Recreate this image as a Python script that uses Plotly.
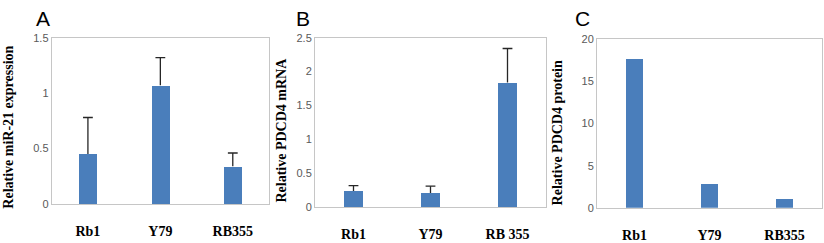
import plotly.graph_objects as go

cats_a = ["Rb1", "Y79", "RB355"]
mir21 = [0.45, 1.07, 0.34]
mir21_err = [0.33, 0.25, 0.12]

cats_b = ["Rb1", "Y79", "RB 355"]
pdcd4_mrna = [0.24, 0.21, 1.84]
pdcd4_mrna_err = [0.08, 0.10, 0.50]

cats_c = ["Rb1", "Y79", "RB355"]
pdcd4_protein = [17.6, 2.8, 1.0]

panel_letters = ["A", "B", "C"]
y_titles = ["Relative miR-21 expression", "Relative PDCD4 mRNA", "Relative PDCD4 protein"]

BAR = "#4a7ebb"
ERR = "#262626"
fig = go.Figure()

def bar(x, y, err, xa, ya, width):
    fig.add_trace(go.Bar(x=x, y=y, marker=dict(color=BAR, line=dict(width=0)), width=width,
                         xaxis=xa, yaxis=ya, showlegend=False))
    if err is not None:
        xs, ys = [], []
        for c, v, e in zip(x, y, err):
            xs += [c, c, None]
            ys += [v, v + e, None]
        fig.add_trace(go.Scatter(x=xs, y=ys, mode="lines", line=dict(color=ERR, width=1.3),
                                 xaxis=xa, yaxis=ya, showlegend=False, hoverinfo="skip"))
        fig.add_trace(go.Scatter(x=x, y=[v + e for v, e in zip(y, err)], mode="markers",
                                 marker=dict(symbol="line-ew", size=7,
                                             line=dict(color=ERR, width=1.3)),
                                 xaxis=xa, yaxis=ya, showlegend=False, hoverinfo="skip"))

bar(cats_a, mir21, mir21_err, "x", "y", 0.25)
bar(cats_b, pdcd4_mrna, pdcd4_mrna_err, "x2", "y2", 0.24)
bar(cats_c, pdcd4_protein, None, "x3", "y3", 0.23)

W, H = 824, 243
xdoms = [(51.7, 269), (315, 546), (597, 822)]
ydoms = [(33.3, 208.3), (33.3, 211.7), (35, 212.3)]
yranges = [(0, 1.5, 0.5), (0, 2.5, 0.5), (0, 20, 5)]

tickfont = dict(family="Liberation Sans", size=11, color="#595959")
catfont = dict(family="Liberation Serif", size=14, color="#000000")
layout = dict(width=W, height=H, margin=dict(l=0, r=0, t=0, b=0),
              plot_bgcolor="white", paper_bgcolor="white", bargap=0)
for i in range(3):
    s = "" if i == 0 else str(i + 1)
    x0, x1 = xdoms[i]
    y0, y1 = ydoms[i]
    layout["xaxis" + s] = dict(domain=[x0 / W, x1 / W], showline=True, mirror=True,
                               linecolor="#c6c6c6", linewidth=1, ticks="", showgrid=False,
                               tickfont=catfont, ticklabelstandoff=14, anchor="y" + s,
                               tickprefix="<b>", ticksuffix="</b>")
    lo, hi, dt = yranges[i]
    layout["yaxis" + s] = dict(domain=[1 - y1 / H, 1 - y0 / H], range=[lo, hi], dtick=dt,
                               showline=True, mirror=True, linecolor="#c6c6c6", linewidth=1,
                               showgrid=False, zeroline=False, ticks="", tickfont=tickfont,
                               anchor="x" + s)
fig.update_layout(**layout)

title_x = [9, 282, 557]
title_y = [128, 131, 134]
letter_x = [43, 303, 582]
for i in range(3):
    fig.add_annotation(x=title_x[i] / W, y=1 - title_y[i] / H, xref="paper", yref="paper",
                       text="<b>" + y_titles[i] + "</b>", textangle=-90, showarrow=False,
                       font=dict(family="Liberation Serif", size=14, color="#000"),
                       xanchor="center", yanchor="middle")
    fig.add_annotation(x=letter_x[i] / W, y=1 - 13 / H, xref="paper", yref="paper",
                       text=panel_letters[i], showarrow=False,
                       font=dict(family="Liberation Sans", size=21, color="#000"),
                       xanchor="center", yanchor="middle")

fig.write_html("out.html", config={"displayModeBar": False},
               post_script="document.body.style.margin='0';document.body.style.overflow='hidden';")
